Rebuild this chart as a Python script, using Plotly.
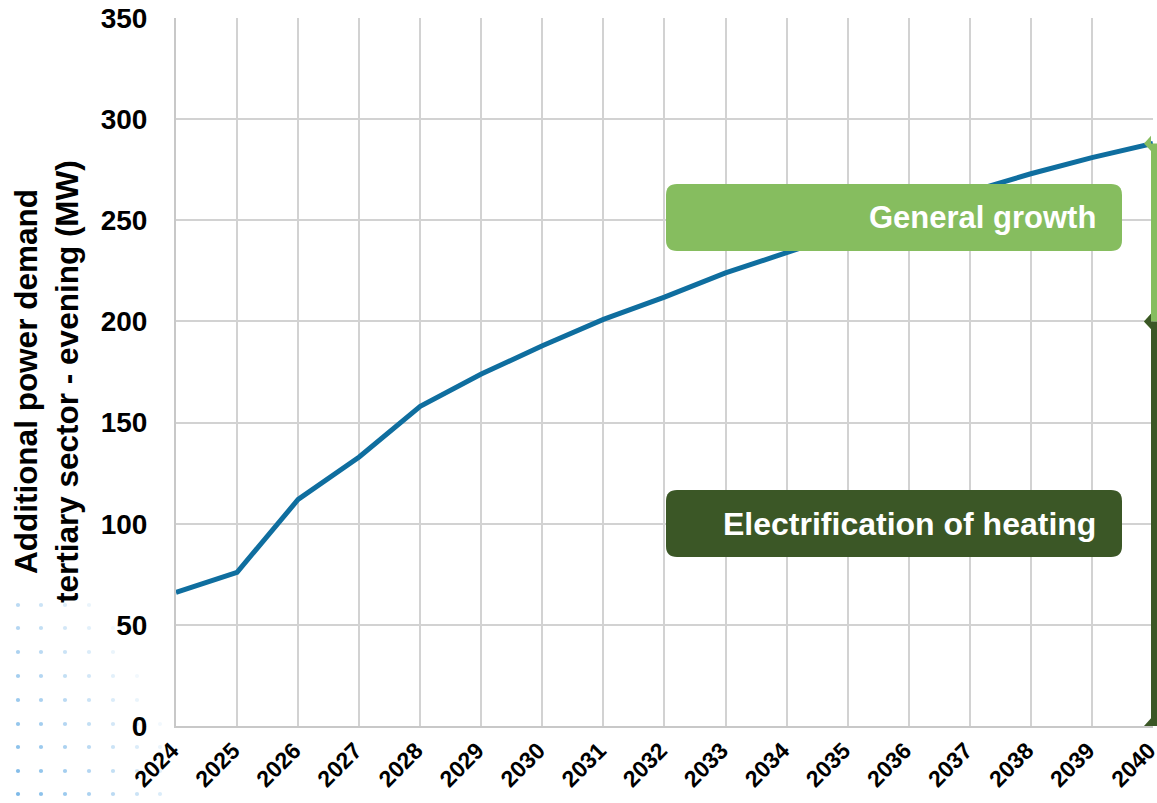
import plotly.graph_objects as go

# ---- data -------------------------------------------------------------
years = list(range(2024, 2041))
demand_mw = [66, 76, 112, 133, 158, 174, 188, 201, 212, 224, 234, 244, 254, 264, 273, 281, 288]
heating_mw = 200            # share from electrification of heating
y_ticks = [0, 50, 100, 150, 200, 250, 300, 350]
box_labels = ["General growth", "Electrification of heating"]

# ---- figure geometry --------------------------------------------------
W, H = 1157, 803
L, R, T, B = 176, 4, 18, 77
PW, PH = W - L - R, H - T - B


def px(x):
    return (x - L) / PW


def py(y):
    return (H - B - y) / PH


LIGHT_GREEN = "#86BD5F"
DARK_GREEN = "#3B5726"
LINE_BLUE = "#0F6E9F"
GRID = "#D2D2D2"
FONT = "Liberation Sans, Arial, sans-serif"

fig = go.Figure()
fig.add_trace(go.Scatter(
    x=years, y=demand_mw, mode="lines",
    line=dict(color=LINE_BLUE, width=5),
    hoverinfo="skip", showlegend=False, cliponaxis=False,
))

shapes = []


def rounded_box(x0, y0, x1, y1, r, color):
    # pixel coords -> paper coords, rounded corners
    ax0, ax1 = px(x0), px(x1)
    ay0, ay1 = py(y1), py(y0)      # bottom, top in paper
    rx, ry = r / PW, r / PH
    path = (f"M {ax0+rx},{ay0} L {ax1-rx},{ay0} Q {ax1},{ay0} {ax1},{ay0+ry} "
            f"L {ax1},{ay1-ry} Q {ax1},{ay1} {ax1-rx},{ay1} "
            f"L {ax0+rx},{ay1} Q {ax0},{ay1} {ax0},{ay1-ry} "
            f"L {ax0},{ay0+ry} Q {ax0},{ay0} {ax0+rx},{ay0} Z")
    return dict(type="path", xref="paper", yref="paper", path=path,
                fillcolor=color, line=dict(width=0), layer="above")


# label boxes
shapes.append(rounded_box(666, 184, 1122, 251, 11, LIGHT_GREEN))
shapes.append(rounded_box(666, 490, 1122, 557, 11, DARK_GREEN))

# right-hand bracket showing the two components
bx0, bx1, tip = px(1151), px(1158), px(1144)
total = demand_mw[-1]
for lo, hi, col in [(heating_mw, total, LIGHT_GREEN), (0, heating_mw, DARK_GREEN)]:
    shapes.append(dict(type="rect", xref="paper", yref="y", x0=bx0, x1=bx1,
                       y0=lo, y1=hi, fillcolor=col, line=dict(width=0), layer="above"))
    dy = 3.8
    for yv in (lo, hi):
        shapes.append(dict(type="path", xref="paper", yref="y",
                           path=f"M {tip},{yv} L {bx0},{yv+dy} L {bx0},{yv-dy} Z",
                           fillcolor=col, line=dict(width=0), layer="above"))

# decorative dot pattern, lower left corner
cols_x = [18, 41, 65, 89, 113, 137, 160]
rows_y = [605, 628, 652, 676, 700, 724, 747, 771, 794]
for i, cx in enumerate(cols_x):
    for j, cy in enumerate(rows_y):
        strength = 1 - 0.12 * i - 0.06 * (len(rows_y) - 1 - j)
        if strength <= 0.08:
            continue
        rr = 2.1
        shapes.append(dict(type="circle", xref="paper", yref="paper",
                           x0=px(cx - rr), x1=px(cx + rr), y0=py(cy + rr), y1=py(cy - rr),
                           fillcolor="#7DB9E8", opacity=min(1, strength),
                           line=dict(width=0), layer="below"))

annotations = [
    dict(text=f"<b>{box_labels[0]}</b>", xref="paper", yref="paper",
         x=px(1098), y=py(218), xanchor="right", yanchor="middle", showarrow=False,
         font=dict(family=FONT, size=31, color="white")),
    dict(text=f"<b>{box_labels[1]}</b>", xref="paper", yref="paper",
         x=px(1098), y=py(524), xanchor="right", yanchor="middle", showarrow=False,
         font=dict(family=FONT, size=32, color="white")),
    dict(text="<b>Additional power demand<br>tertiary sector - evening (MW)</b>",
         xref="paper", yref="paper", x=px(46), y=py(382), xanchor="center",
         yanchor="middle", textangle=-90, showarrow=False,
         font=dict(family=FONT, size=31.5, color="black")),
]

fig.update_layout(
    width=W, height=H,
    margin=dict(l=L, r=R, t=T, b=B, autoexpand=False),
    paper_bgcolor="white", plot_bgcolor="white",
    font=dict(family=FONT, color="black"),
    shapes=shapes, annotations=annotations,
    xaxis=dict(
        range=[years[0], years[-1] + 0.001], tickmode="array", tickvals=years,
        ticktext=[f"<b>{y}</b>" for y in years], tickangle=-45,
        tickfont=dict(family=FONT, size=23, color="black"),
        ticklabeloverflow="allow", automargin=False, ticklabelshift=-4,
        showgrid=True, gridcolor=GRID, gridwidth=2,
        showline=True, linecolor="#C8C8C8", linewidth=2, mirror=False,
        zeroline=False, fixedrange=True,
    ),
    yaxis=dict(
        range=[0, 350], tickmode="array", tickvals=y_ticks,
        ticktext=[f"<b>{v}</b>" for v in y_ticks],
        tickfont=dict(family=FONT, size=28, color="black"),
        ticklabelstandoff=21,
        ticklabeloverflow="allow", automargin=False,
        showgrid=True, gridcolor=GRID, gridwidth=2,
        showline=True, linecolor="#C8C8C8", linewidth=2,
        zeroline=False, fixedrange=True,
    ),
)

fig.write_html("out.html")
